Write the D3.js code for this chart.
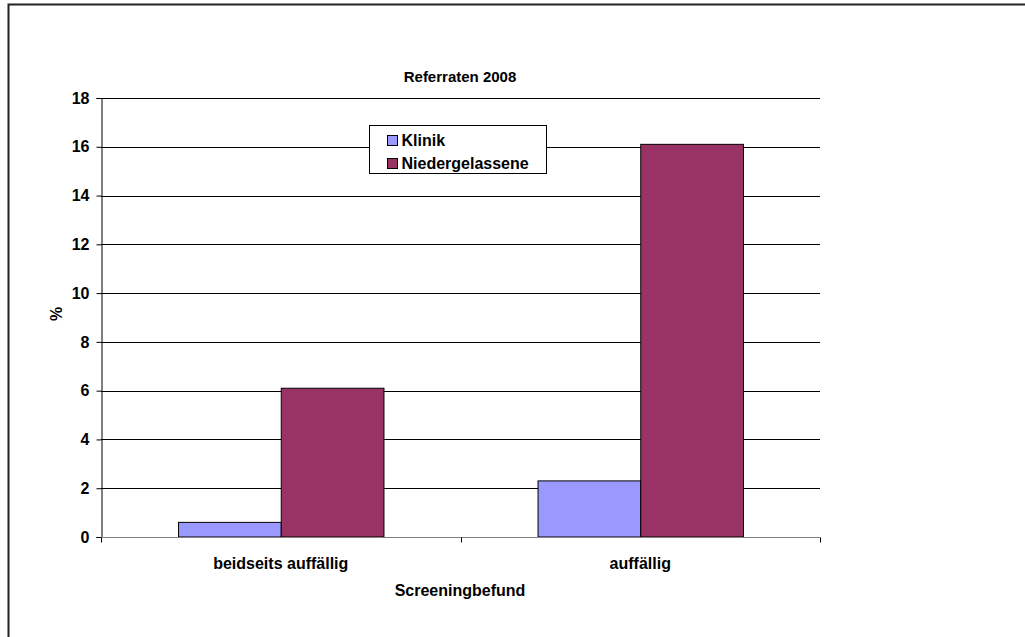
<!DOCTYPE html>
<html>
<head>
<meta charset="utf-8">
<script src="https://cdn.jsdelivr.net/npm/d3@7"></script>
<style>
  html, body { margin: 0; padding: 0; background: #fff; }
  svg { display: block; }
  text { font-family: "Liberation Sans", Arial, sans-serif; font-weight: bold; fill: #000; }
</style>
</head>
<body>
<svg id="chart" width="1025" height="637"></svg>
<script>
// Referral rates 2008 by screening result
const categories = ["beidseits auffällig", "auffällig"];
const seriesNames = ["Klinik", "Niedergelassene"];
const klinik = [0.6, 2.3];
const niedergelassene = [6.1, 16.1];
const yTicks = [0, 2, 4, 6, 8, 10, 12, 14, 16, 18];
const colors = ["#9999ff", "#993366"];

const svg = d3.select("#chart");

// outer chart frame
svg.append("rect")
  .attr("x", 8.5).attr("y", 4.5)
  .attr("width", 1040).attr("height", 660)
  .attr("fill", "#fff")
  .attr("stroke", "#222").attr("stroke-width", 2);

const plot = { left: 101, right: 820, top: 98, bottom: 537 };

const x0 = d3.scaleBand().domain(categories).range([plot.left, plot.right]).paddingInner(0).paddingOuter(0);
const x1 = d3.scaleBand().domain(seriesNames).range([0, x0.bandwidth()]).paddingInner(0).paddingOuter(0.75);
const y = d3.scaleLinear().domain([0, 18]).range([plot.bottom, plot.top]);

// horizontal gridlines
svg.append("g").selectAll("line").data(yTicks).join("line")
  .attr("x1", plot.left).attr("x2", plot.right)
  .attr("y1", d => Math.round(y(d)) + 0.5).attr("y2", d => Math.round(y(d)) + 0.5)
  .attr("stroke", d => d === 0 ? "#808080" : "#000").attr("stroke-width", 1);

// bars
const data = categories.map((c, i) => ({ cat: c, vals: [klinik[i], niedergelassene[i]] }));
const groups = svg.append("g").selectAll("g").data(data).join("g")
  .attr("transform", d => `translate(${x0(d.cat)},0)`);
groups.selectAll("rect").data(d => d.vals.map((v, j) => ({ name: seriesNames[j], v, j })))
  .join("rect")
  .attr("x", d => x1(d.name) + 0.5)
  .attr("y", d => y(d.v))
  .attr("width", x1.bandwidth())
  .attr("height", d => y(0) - y(d.v))
  .attr("fill", d => colors[d.j])
  .attr("stroke", "#000").attr("stroke-width", 1);

// y axis
const yAxis = d3.axisLeft(y).tickValues(yTicks).tickSize(5).tickPadding(7).tickFormat(d3.format("d"));
const ya = svg.append("g").attr("transform", `translate(${plot.left + 0.5},0)`).call(yAxis);
ya.select(".domain").attr("stroke", "#000");
ya.selectAll(".tick line").attr("stroke", "#000");
ya.selectAll(".tick text").style("font-size", "16px").style("font-family", "Liberation Sans, Arial, sans-serif").style("font-weight", "bold");

// x axis (ticks on category boundaries)
const xa = svg.append("g").attr("transform", `translate(0,${plot.bottom + 0.5})`);
xa.append("line").attr("x1", plot.left).attr("x2", plot.right).attr("stroke", "#808080");
const bounds = [plot.left, x0(categories[1]), plot.right];
xa.selectAll(".tk").data(bounds).join("line")
  .attr("x1", d => Math.round(d) + 0.5).attr("x2", d => Math.round(d) + 0.5)
  .attr("y1", 0).attr("y2", 5).attr("stroke", "#000");
xa.selectAll(".lbl").data(categories).join("text")
  .attr("x", d => x0(d) + x0.bandwidth() / 2)
  .attr("y", 31)
  .attr("text-anchor", "middle")
  .style("font-size", "16px")
  .text(d => d);

// titles
svg.append("text").attr("x", 460).attr("y", 82).attr("text-anchor", "middle")
  .style("font-size", "15px").text("Referraten 2008");
svg.append("text").attr("x", 460).attr("y", 596).attr("text-anchor", "middle")
  .style("font-size", "16px").text("Screeningbefund");
svg.append("text").attr("transform", "translate(62,314) rotate(-90)").attr("text-anchor", "middle")
  .style("font-size", "16px").text("%");

// legend
const lg = svg.append("g").attr("transform", "translate(369.5,125.5)");
lg.append("rect").attr("width", 177).attr("height", 48)
  .attr("fill", "#fff").attr("stroke", "#000").attr("stroke-width", 1);
const items = lg.selectAll("g").data(seriesNames).join("g")
  .attr("transform", (d, i) => `translate(18,${10 + i * 23})`);
items.append("rect").attr("width", 10).attr("height", 10)
  .attr("fill", (d, i) => colors[i]).attr("stroke", "#000");
items.append("text").attr("x", 14).attr("y", 10).style("font-size", "16px").text(d => d);
</script>
</body>
</html>
